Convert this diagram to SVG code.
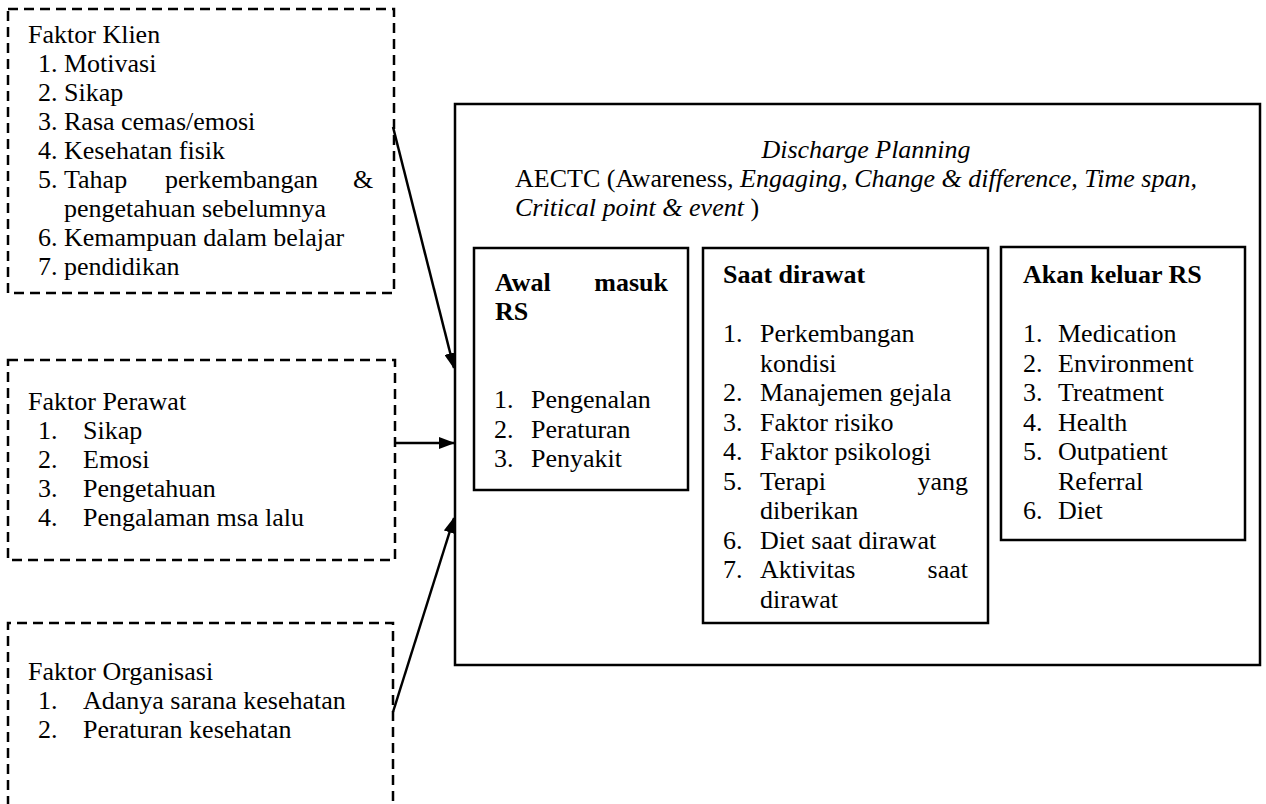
<svg xmlns="http://www.w3.org/2000/svg" width="1266" height="804" viewBox="0 0 1266 804">
<defs>
<marker id="ah" viewBox="0 0 16 12" refX="15" refY="6" markerWidth="16" markerHeight="12" markerUnits="userSpaceOnUse" orient="auto">
<path d="M0,0 L16,6 L0,12 Z" fill="#000"/>
</marker>
<style>
text{font-family:"Liberation Serif","Times New Roman",serif;font-size:26px;fill:#000}
.b{font-weight:bold}
.i{font-style:italic}
.dash{fill:none;stroke:#000;stroke-width:2.5;stroke-dasharray:10 6}
.box{fill:none;stroke:#000;stroke-width:2.5}
.conn{fill:none;stroke:#000;stroke-width:2.5}
</style>
</defs>
<rect width="1266" height="804" fill="#fff"/>

<g id="faktor-klien">
<rect class="dash" x="8" y="9" width="386" height="284"/>
<text x="28" y="43">Faktor Klien</text>
<text x="38" y="72">1.</text><text x="64" y="72">Motivasi</text>
<text x="38" y="101">2.</text><text x="64" y="101">Sikap</text>
<text x="38" y="130">3.</text><text x="64" y="130">Rasa cemas/emosi</text>
<text x="38" y="159">4.</text><text x="64" y="159">Kesehatan fisik</text>
<text x="38" y="188">5.</text><text x="64" y="188">Tahap</text><text x="165" y="188">perkembangan</text><text x="353" y="188">&amp;</text>
<text x="64" y="217">pengetahuan sebelumnya</text>
<text x="38" y="246">6.</text><text x="64" y="246">Kemampuan dalam belajar</text>
<text x="38" y="275">7.</text><text x="64" y="275">pendidikan</text>
</g>

<g id="faktor-perawat">
<rect class="dash" x="8" y="360" width="387" height="200"/>
<text x="28" y="410">Faktor Perawat</text>
<text x="38" y="439">1.</text><text x="83" y="439">Sikap</text>
<text x="38" y="468">2.</text><text x="83" y="468">Emosi</text>
<text x="38" y="497">3.</text><text x="83" y="497">Pengetahuan</text>
<text x="38" y="526">4.</text><text x="83" y="526">Pengalaman msa lalu</text>
</g>

<g id="faktor-organisasi">
<path class="dash" d="M8,806 L8,623 L393,623 L393,806"/>
<text x="28" y="680">Faktor Organisasi</text>
<text x="38" y="709">1.</text><text x="83" y="709">Adanya sarana kesehatan</text>
<text x="38" y="738">2.</text><text x="83" y="738">Peraturan kesehatan</text>
</g>

<g id="connectors">
<line class="conn" x1="393" y1="127" x2="454" y2="368" marker-end="url(#ah)"/>
<line class="conn" x1="395" y1="443" x2="454" y2="443" marker-end="url(#ah)"/>
<line class="conn" x1="393" y1="712" x2="454" y2="518" marker-end="url(#ah)"/>
</g>

<g id="discharge-planning">
<rect class="box" x="455" y="104" width="805" height="561" stroke-width="2"/>
<text class="i" x="866" y="158" text-anchor="middle">Discharge Planning</text>
<text x="515" y="187">AECTC (Awareness, <tspan class="i">Engaging, Change &amp; difference, Time span,</tspan></text>
<text x="515" y="216"><tspan class="i">Critical point &amp; event </tspan>)</text>
</g>

<g id="awal-masuk">
<rect class="box" x="474" y="248" width="214" height="242"/>
<text class="b" x="495" y="291">Awal</text><text class="b" x="668" y="291" text-anchor="end">masuk</text>
<text class="b" x="495" y="320">RS</text>
<text x="494" y="408">1.</text><text x="531" y="408">Pengenalan</text>
<text x="494" y="437.5">2.</text><text x="531" y="437.5">Peraturan</text>
<text x="494" y="467">3.</text><text x="531" y="467">Penyakit</text>
</g>

<g id="saat-dirawat">
<rect class="box" x="703" y="248" width="285" height="375"/>
<text class="b" x="723" y="283">Saat dirawat</text>
<text x="723" y="342">1.</text><text x="760" y="342">Perkembangan</text>
<text x="760" y="371.5">kondisi</text>
<text x="723" y="401">2.</text><text x="760" y="401">Manajemen gejala</text>
<text x="723" y="430.5">3.</text><text x="760" y="430.5">Faktor risiko</text>
<text x="723" y="460">4.</text><text x="760" y="460">Faktor psikologi</text>
<text x="723" y="489.5">5.</text><text x="760" y="489.5">Terapi</text><text x="968" y="489.5" text-anchor="end">yang</text>
<text x="760" y="519">diberikan</text>
<text x="723" y="548.5">6.</text><text x="760" y="548.5">Diet saat dirawat</text>
<text x="723" y="578">7.</text><text x="760" y="578">Aktivitas</text><text x="968" y="578" text-anchor="end">saat</text>
<text x="760" y="607.5">dirawat</text>
</g>

<g id="akan-keluar">
<rect class="box" x="1001" y="247" width="244" height="293"/>
<text class="b" x="1023" y="283">Akan keluar RS</text>
<text x="1023" y="342">1.</text><text x="1058" y="342">Medication</text>
<text x="1023" y="371.5">2.</text><text x="1058" y="371.5">Environment</text>
<text x="1023" y="401">3.</text><text x="1058" y="401">Treatment</text>
<text x="1023" y="430.5">4.</text><text x="1058" y="430.5">Health</text>
<text x="1023" y="460">5.</text><text x="1058" y="460">Outpatient</text>
<text x="1058" y="489.5">Referral</text>
<text x="1023" y="519">6.</text><text x="1058" y="519">Diet</text>
</g>
</svg>
